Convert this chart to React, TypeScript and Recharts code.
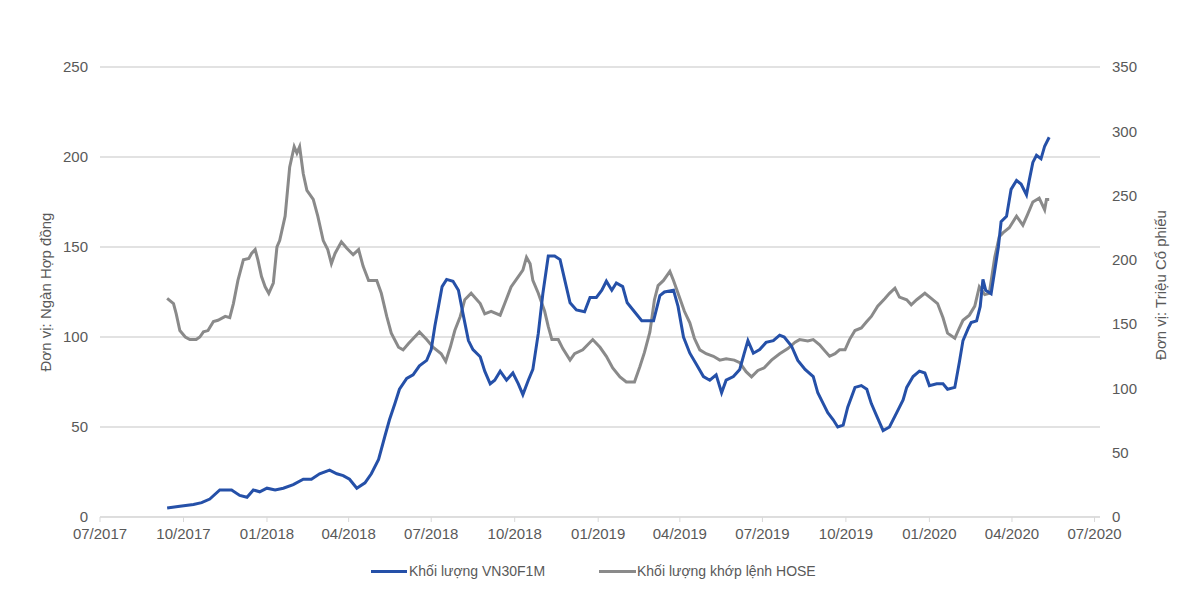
import React from 'react';
import { LineChart, Line, XAxis, YAxis, CartesianGrid } from 'recharts';

// Khối lượng VN30F1M (ngàn hợp đồng) - trục trái
const vn30Dates = [
  '2017-09-13', '2017-09-27', '2017-10-12', '2017-10-21', '2017-10-30', '2017-11-10', '2017-11-23', '2017-12-02',
  '2017-12-10', '2017-12-17', '2017-12-24', '2018-01-01', '2018-01-10', '2018-01-19', '2018-01-30', '2018-02-10',
  '2018-02-19', '2018-02-28', '2018-03-11', '2018-03-19', '2018-03-26', '2018-04-02', '2018-04-10', '2018-04-19',
  '2018-04-26', '2018-05-04', '2018-05-11', '2018-05-16', '2018-05-22', '2018-05-27', '2018-06-04', '2018-06-11',
  '2018-06-18', '2018-06-26', '2018-07-01', '2018-07-05', '2018-07-09', '2018-07-13', '2018-07-18', '2018-07-25',
  '2018-07-31', '2018-08-05', '2018-08-11', '2018-08-16', '2018-08-24', '2018-08-29', '2018-09-04', '2018-09-09',
  '2018-09-15', '2018-09-22', '2018-09-29', '2018-10-05', '2018-10-10', '2018-10-16', '2018-10-21', '2018-10-27',
  '2018-11-01', '2018-11-07', '2018-11-14', '2018-11-20', '2018-11-25', '2018-12-01', '2018-12-08', '2018-12-17',
  '2018-12-23', '2018-12-30', '2019-01-05', '2019-01-10', '2019-01-16', '2019-01-21', '2019-01-28', '2019-02-02',
  '2019-02-10', '2019-02-18', '2019-02-25', '2019-03-03', '2019-03-10', '2019-03-15', '2019-03-25', '2019-03-30',
  '2019-04-05', '2019-04-12', '2019-04-19', '2019-04-27', '2019-05-04', '2019-05-11', '2019-05-17', '2019-05-22',
  '2019-05-30', '2019-06-06', '2019-06-11', '2019-06-15', '2019-06-21', '2019-06-28', '2019-07-05', '2019-07-13',
  '2019-07-20', '2019-07-25', '2019-08-02', '2019-08-09', '2019-08-17', '2019-08-26', '2019-08-31', '2019-09-06',
  '2019-09-11', '2019-09-17', '2019-09-22', '2019-09-28', '2019-10-03', '2019-10-11', '2019-10-18', '2019-10-24',
  '2019-10-29', '2019-11-04', '2019-11-11', '2019-11-18', '2019-11-26', '2019-12-03', '2019-12-07', '2019-12-14',
  '2019-12-21', '2019-12-27', '2020-01-01', '2020-01-09', '2020-01-16', '2020-01-21', '2020-01-29', '2020-02-03',
  '2020-02-07', '2020-02-13', '2020-02-16', '2020-02-22', '2020-02-26', '2020-02-29', '2020-03-03', '2020-03-09',
  '2020-03-13', '2020-03-17', '2020-03-20', '2020-03-26', '2020-03-31', '2020-04-06', '2020-04-11', '2020-04-17',
  '2020-04-20', '2020-04-24', '2020-04-28', '2020-05-03', '2020-05-07', '2020-05-12',
];
const vn30Values = [
  5, 6, 7, 8, 10, 15, 15, 12,
  11, 15, 14, 16, 15, 16, 18, 21,
  21, 24, 26, 24, 23, 21, 16, 19,
  24, 32, 45, 54, 63, 71, 77, 79,
  84, 87, 93, 106, 117, 128, 132, 131,
  126, 113, 98, 93, 89, 81, 74, 76,
  81, 76, 80, 74, 68, 76, 82, 102,
  124, 145, 145, 143, 132, 119, 115, 114,
  122, 122, 126, 131, 126, 130, 128, 119,
  114, 109, 109, 109, 123, 125, 126, 117,
  100, 91, 85, 78, 76, 79, 69, 76,
  78, 82, 91, 98, 91, 93, 97, 98,
  101, 100, 95, 87, 82, 78, 69, 63,
  58, 54, 50, 51, 61, 72, 73, 71,
  63, 56, 48, 50, 58, 65, 72, 78,
  81, 80, 73, 74, 74, 71, 72, 86,
  98, 105, 108, 109, 117, 132, 126, 124,
  137, 150, 164, 167, 182, 187, 185, 179,
  187, 197, 201, 199, 206, 211,
];

// Khối lượng khớp lệnh HOSE (triệu cổ phiếu) - trục phải
const hoseDates = [
  '2017-09-13', '2017-09-20', '2017-09-23', '2017-09-27', '2017-10-03', '2017-10-08', '2017-10-15', '2017-10-19',
  '2017-10-23', '2017-10-28', '2017-11-03', '2017-11-08', '2017-11-16', '2017-11-21', '2017-11-25', '2017-11-30',
  '2017-12-06', '2017-12-12', '2017-12-15', '2017-12-19', '2017-12-22', '2017-12-26', '2017-12-30', '2018-01-03',
  '2018-01-08', '2018-01-12', '2018-01-15', '2018-01-21', '2018-01-26', '2018-01-31', '2018-02-03', '2018-02-06',
  '2018-02-10', '2018-02-14', '2018-02-21', '2018-02-26', '2018-03-04', '2018-03-09', '2018-03-13', '2018-03-17',
  '2018-03-24', '2018-03-30', '2018-04-06', '2018-04-12', '2018-04-17', '2018-04-23', '2018-05-02', '2018-05-07',
  '2018-05-13', '2018-05-18', '2018-05-26', '2018-05-31', '2018-06-06', '2018-06-18', '2018-06-26', '2018-07-03',
  '2018-07-12', '2018-07-17', '2018-07-22', '2018-07-27', '2018-08-02', '2018-08-07', '2018-08-14', '2018-08-24',
  '2018-08-29', '2018-09-05', '2018-09-15', '2018-09-20', '2018-09-27', '2018-10-05', '2018-10-10', '2018-10-14',
  '2018-10-18', '2018-10-21', '2018-10-27', '2018-11-03', '2018-11-07', '2018-11-11', '2018-11-18', '2018-11-23',
  '2018-12-01', '2018-12-06', '2018-12-15', '2018-12-26', '2019-01-03', '2019-01-10', '2019-01-17', '2019-01-25',
  '2019-02-01', '2019-02-10', '2019-02-16', '2019-02-21', '2019-02-27', '2019-03-04', '2019-03-08', '2019-03-14',
  '2019-03-21', '2019-03-25', '2019-03-30', '2019-04-06', '2019-04-12', '2019-04-17', '2019-04-23', '2019-04-30',
  '2019-05-08', '2019-05-15', '2019-05-22', '2019-05-31', '2019-06-06', '2019-06-13', '2019-06-19', '2019-06-26',
  '2019-07-03', '2019-07-11', '2019-07-20', '2019-07-29', '2019-08-06', '2019-08-11', '2019-08-20', '2019-08-26',
  '2019-09-02', '2019-09-08', '2019-09-13', '2019-09-19', '2019-09-24', '2019-09-30', '2019-10-05', '2019-10-11',
  '2019-10-18', '2019-10-24', '2019-10-29', '2019-11-05', '2019-11-13', '2019-11-18', '2019-11-24', '2019-11-29',
  '2019-12-07', '2019-12-12', '2019-12-18', '2019-12-27', '2020-01-03', '2020-01-10', '2020-01-16', '2020-01-21',
  '2020-01-29', '2020-02-03', '2020-02-07', '2020-02-14', '2020-02-20', '2020-02-25', '2020-03-02', '2020-03-07',
  '2020-03-13', '2020-03-18', '2020-03-22', '2020-03-29', '2020-04-06', '2020-04-13', '2020-04-18', '2020-04-24',
  '2020-05-01', '2020-05-07', '2020-05-09', '2020-05-12',
];
const hoseValues = [
  170, 166, 158, 145, 140, 138, 138, 140,
  144, 145, 152, 153, 156, 155, 166, 184,
  200, 201, 205, 208, 200, 187, 179, 174,
  182, 210, 215, 234, 272, 288, 283, 288,
  267, 254, 247, 234, 215, 208, 197, 205,
  214, 209, 204, 208, 195, 184, 184, 174,
  156, 143, 132, 130, 135, 144, 138, 132,
  127, 121, 132, 145, 156, 169, 174, 166,
  158, 160, 157, 166, 179, 187, 192, 202,
  197, 184, 174, 160, 148, 138, 138, 131,
  122, 127, 130, 138, 132, 125, 116, 109,
  105, 105, 117, 128, 144, 169, 180, 184,
  191, 184, 174, 160, 151, 139, 130, 127,
  125, 122, 123, 122, 120, 113, 109, 114,
  116, 122, 127, 131, 136, 138, 137, 138,
  134, 129, 125, 127, 130, 130, 138, 145,
  147, 152, 156, 164, 170, 174, 178, 171,
  169, 165, 169, 174, 170, 166, 155, 143,
  139, 147, 153, 157, 164, 179, 173, 174,
  202, 218, 221, 225, 234, 227, 235, 245,
  248, 239, 247, 247,
];

const quarterTicks = [
  '2017-07-01', '2017-10-01', '2018-01-01', '2018-04-01', '2018-07-01', '2018-10-01', '2019-01-01',
  '2019-04-01', '2019-07-01', '2019-10-01', '2020-01-01', '2020-04-01', '2020-07-01',
];
const leftTicks = [0, 50, 100, 150, 200, 250];
const rightTicks = [0, 50, 100, 150, 200, 250, 300, 350];

const toTime = (s: string) => {
  const [y, m, d] = s.split('-').map(Number);
  return Date.UTC(y, m - 1, d);
};

const fmtTick = (t: number) => {
  const d = new Date(t);
  const m = String(d.getUTCMonth() + 1).padStart(2, '0');
  return `${m}/${d.getUTCFullYear()}`;
};

// gộp hai chuỗi theo ngày
const rows = new Map<number, { t: number; vn30?: number; hose?: number }>();
vn30Dates.forEach((s, i) => {
  const t = toTime(s);
  rows.set(t, { ...(rows.get(t) || { t }), vn30: vn30Values[i] });
});
hoseDates.forEach((s, i) => {
  const t = toTime(s);
  rows.set(t, { ...(rows.get(t) || { t }), hose: hoseValues[i] });
});
const data = Array.from(rows.values()).sort((a, b) => a.t - b.t);

const BLUE = '#2550a8';
const GRAY = '#8a8a8a';
const TEXT = '#595959';
const FONT = '"Liberation Sans", Arial, sans-serif';

export default function App() {
  const tickStyle = { fontSize: 15, fill: TEXT, fontFamily: FONT };
  return (
    <div style={{ position: 'absolute', left: 0, top: 0, width: 1200, height: 596, background: '#fff', fontFamily: FONT }}>
      <LineChart width={1200} height={596} data={data} margin={{ top: 67, right: 0, bottom: 39, left: 0 }}>
        <CartesianGrid yAxisId="left" vertical={false} stroke="#d9d9d9" strokeWidth={1.5} />
        <XAxis
          dataKey="t"
          type="number"
          scale="time"
          domain={[toTime('2017-07-01'), toTime('2020-07-07')]}
          ticks={quarterTicks.map(toTime)}
          tickFormatter={fmtTick}
          height={40}
          tick={tickStyle}
          tickSize={5}
          tickMargin={6}
          stroke="#d9d9d9"
          allowDataOverflow
        />
        <YAxis
          yAxisId="left"
          orientation="left"
          width={100}
          domain={[0, 250]}
          ticks={leftTicks}
          tick={tickStyle}
          axisLine={false}
          tickLine={false}
          tickSize={0}
          tickMargin={12}
        />
        <YAxis
          yAxisId="right"
          orientation="right"
          width={100}
          domain={[0, 350]}
          ticks={rightTicks}
          tick={{ ...tickStyle, textAnchor: 'start' }}
          axisLine={false}
          tickLine={false}
          tickSize={0}
          tickMargin={12}
        />
        <Line
          yAxisId="right"
          dataKey="hose"
          stroke={GRAY}
          strokeWidth={3}
          dot={false}
          connectNulls
          isAnimationActive={false}
        />
        <Line
          yAxisId="left"
          dataKey="vn30"
          stroke={BLUE}
          strokeWidth={3}
          dot={false}
          connectNulls
          isAnimationActive={false}
        />
      </LineChart>

      {/* tiêu đề trục */}
      <div style={{ position: 'absolute', left: 45, top: 292, transform: 'translate(-50%, -50%) rotate(-90deg)', whiteSpace: 'nowrap', fontSize: 15, color: TEXT }}>
        Đơn vị: Ngàn Hợp đồng
      </div>
      <div style={{ position: 'absolute', left: 1160, top: 285, transform: 'translate(-50%, -50%) rotate(-90deg)', whiteSpace: 'nowrap', fontSize: 15, color: TEXT }}>
        Đơn vị: Triệu Cổ phiếu
      </div>

      {/* chú thích */}
      <div style={{ position: 'absolute', left: 371, top: 570, width: 36, height: 3, background: BLUE }} />
      <div style={{ position: 'absolute', left: 409, top: 562, fontSize: 14, lineHeight: '18px', color: TEXT, whiteSpace: 'nowrap' }}>
        Khối lượng VN30F1M
      </div>
      <div style={{ position: 'absolute', left: 599, top: 570, width: 37, height: 3, background: GRAY }} />
      <div style={{ position: 'absolute', left: 637, top: 562, fontSize: 14, lineHeight: '18px', color: TEXT, whiteSpace: 'nowrap' }}>
        Khối lượng khớp lệnh HOSE
      </div>
    </div>
  );
}
